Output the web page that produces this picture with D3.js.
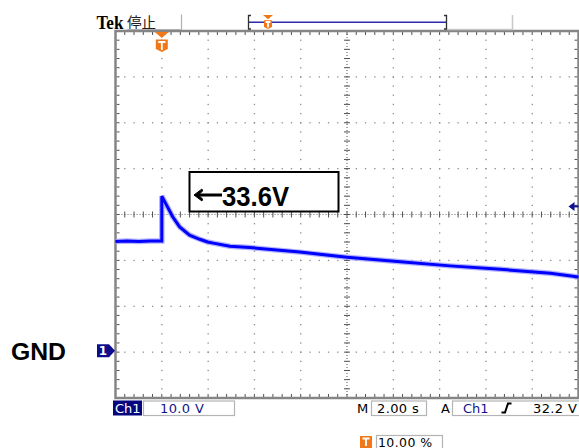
<!DOCTYPE html>
<html>
<head>
<meta charset="utf-8">
<script src="https://cdn.jsdelivr.net/npm/d3@7"></script>
<style>
  body { margin: 0; background: #ffffff; }
  svg { display: block; }
  .stat { font-family: "DejaVu Sans", sans-serif; font-size: 13px; }
</style>
</head>
<body>
<svg id="scope" width="579" height="448"></svg>
<script>
// Ch1 trace (time in s, trigger at 0; volts relative to GND)
const traceTime = [-2, -1.5, -1, -0.5, 0, 0, 0.47, 0.77, 1.2, 1.64, 1.98, 2.28, 2.94, 3.8, 5.96, 8.0, 10.3, 12.46, 14.62, 16.79, 18];
const traceVolt = [24.1, 24.2, 24.1, 24.2, 24.2, 34.0, 29.5, 27.3, 25.5, 24.6, 24.0, 23.7, 23.1, 22.8, 21.8, 20.7, 19.7, 18.8, 18.05, 17.2, 16.4];

// Screen settings / readouts
const timeDomain = [-2, 18];      // 2.00 s/div, trigger at 10 %
const voltDomain = [-10, 70];     // 10.0 V/div, GND at -3 div
const trigLevel = 32.2;
const peakLabel = '33.6V';
const chLabel = 'Ch1';
const voltsDiv = '10.0 V';
const timeDiv = '2.00 s';
const trigSrc = 'Ch1';
const trigLevelLabel = '32.2 V';
const trigPos = '10.00 %';

(function() {
    'use strict';

    const svg = d3.select('#scope');
    const x = d3.scaleLinear().domain(timeDomain).range([115.5, 578.5]);
    const y = d3.scaleLinear().domain(voltDomain).range([398, 31]);

    const xDivs = d3.range(timeDomain[0], timeDomain[1] + 0.001, 2);
    const yDivs = d3.range(voltDomain[0], voltDomain[1] + 0.001, 10);
    const xCenter = 8, yCenter = 30;

    const grid = svg.append('g');

    // dotted graticule: dot every 1/5 division
    const xMinor = d3.range(timeDomain[0], timeDomain[1] + 0.001, 0.4);
    const yMinor = d3.range(voltDomain[0], voltDomain[1] + 0.001, 2);
    xDivs.slice(1, -1).forEach(t => {
        if (t === xCenter) return;
        yMinor.forEach(v => {
            grid.append('rect')
                .attr('x', x(t) - 0.6).attr('y', y(v) - 0.6)
                .attr('width', 1.3).attr('height', 1.3)
                .attr('fill', '#8c8c8c');
        });
    });
    yDivs.slice(1, -1).forEach(v => {
        if (v === yCenter) return;
        xMinor.forEach(t => {
            grid.append('rect')
                .attr('x', x(t) - 0.6).attr('y', y(v) - 0.6)
                .attr('width', 1.3).attr('height', 1.3)
                .attr('fill', '#8c8c8c');
        });
    });

    // center axes with fine dots and ticks
    grid.append('line')
        .attr('x1', x(timeDomain[0])).attr('x2', x(timeDomain[1]))
        .attr('y1', y(yCenter)).attr('y2', y(yCenter))
        .attr('stroke', '#707070').attr('stroke-width', 1.2)
        .attr('stroke-dasharray', '1,2');
    grid.append('line')
        .attr('x1', x(xCenter)).attr('x2', x(xCenter))
        .attr('y1', y(voltDomain[0])).attr('y2', y(voltDomain[1]))
        .attr('stroke', '#707070').attr('stroke-width', 1.2)
        .attr('stroke-dasharray', '1,2');
    xMinor.forEach(t => {
        grid.append('line')
            .attr('x1', x(t)).attr('x2', x(t))
            .attr('y1', y(yCenter) - 3).attr('y2', y(yCenter) + 3)
            .attr('stroke', '#505050').attr('stroke-width', 1);
        // ticks along top and bottom border
        grid.append('line')
            .attr('x1', x(t)).attr('x2', x(t))
            .attr('y1', y(voltDomain[1]) + 1).attr('y2', y(voltDomain[1]) + 4)
            .attr('stroke', '#505050').attr('stroke-width', 1);
        grid.append('line')
            .attr('x1', x(t)).attr('x2', x(t))
            .attr('y1', y(voltDomain[0]) - 4).attr('y2', y(voltDomain[0]) - 1)
            .attr('stroke', '#505050').attr('stroke-width', 1);
    });
    yMinor.forEach(v => {
        grid.append('line')
            .attr('x1', x(xCenter) - 3).attr('x2', x(xCenter) + 3)
            .attr('y1', y(v)).attr('y2', y(v))
            .attr('stroke', '#505050').attr('stroke-width', 1);
        grid.append('line')
            .attr('x1', x(timeDomain[0]) + 1).attr('x2', x(timeDomain[0]) + 4)
            .attr('y1', y(v)).attr('y2', y(v))
            .attr('stroke', '#505050').attr('stroke-width', 1);
        grid.append('line')
            .attr('x1', x(timeDomain[1]) - 4).attr('x2', x(timeDomain[1]) - 1)
            .attr('y1', y(v)).attr('y2', y(v))
            .attr('stroke', '#505050').attr('stroke-width', 1);
    });

    // border
    grid.append('rect')
        .attr('x', x(timeDomain[0])).attr('y', y(voltDomain[1]))
        .attr('width', x(timeDomain[1]) - x(timeDomain[0]))
        .attr('height', y(voltDomain[0]) - y(voltDomain[1]))
        .attr('fill', 'none').attr('stroke', '#858585').attr('stroke-width', 2.5);

    // trace: noisy band, then core line
    const line = d3.line().x((d, i) => x(traceTime[i])).y(d => y(d));
    svg.append('path').datum(traceVolt)
        .attr('d', line).attr('fill', 'none')
        .attr('stroke', '#a0a0ff').attr('stroke-width', 5.5).attr('opacity', 0.8);
    svg.append('path').datum(traceVolt)
        .attr('d', line).attr('fill', 'none')
        .attr('stroke', '#0000ff').attr('stroke-width', 3);

    // trigger-level arrow (right edge)
    const ty = y(trigLevel) + 2;
    const tx = x(timeDomain[1]);
    svg.append('path')
        .attr('d', `M${tx - 10},${ty} L${tx - 4},${ty - 4.5} L${tx - 4},${ty + 4.5} Z`)
        .attr('fill', '#101090');
    svg.append('line')
        .attr('x1', tx - 5).attr('x2', tx).attr('y1', ty).attr('y2', ty)
        .attr('stroke', '#101090').attr('stroke-width', 2);

    // trigger position marker (top of grid)
    function triggerIcon(g, cx, top, w, h) {
        g.append('path')
            .attr('d', `M${cx - w / 2 - 1},${top} L${cx + w / 2 + 1},${top} L${cx},${top + h * 0.3} Z`)
            .attr('fill', '#f07818');
        g.append('path')
            .attr('d', `M${cx - w / 2},${top + h * 0.38} L${cx + w / 2},${top + h * 0.38} L${cx + w / 2},${top + h * 0.85} L${cx},${top + h} L${cx - w / 2},${top + h * 0.85} Z`)
            .attr('fill', '#f07818');
        g.append('path')
            .attr('d', `M${cx - w * 0.3},${top + h * 0.5} L${cx + w * 0.3},${top + h * 0.5} M${cx},${top + h * 0.5} L${cx},${top + h * 0.9}`)
            .attr('stroke', '#ffffff').attr('stroke-width', 1.8);
    }
    triggerIcon(svg.append('g'), x(0), 32, 12, 20);

    // GND / channel marker
    const gy = y(0) - 1.5;
    svg.append('path')
        .attr('d', `M97,${gy - 6.5} L109,${gy - 6.5} L115,${gy} L109,${gy + 6.5} L97,${gy + 6.5} Z`)
        .attr('fill', '#0c0c8c');
    svg.append('text')
        .attr('x', 103).attr('y', gy + 4.5)
        .attr('text-anchor', 'middle')
        .attr('font-family', 'DejaVu Sans, sans-serif').attr('font-weight', 'bold')
        .attr('font-size', '12px').attr('fill', '#ffffff')
        .text('1');

    svg.append('text')
        .attr('x', 11).attr('y', 359.5)
        .attr('font-family', 'Liberation Sans, Arial, sans-serif')
        .attr('font-weight', 'bold').attr('font-size', '24px')
        .attr('textLength', 55).attr('lengthAdjust', 'spacingAndGlyphs')
        .attr('fill', '#000000')
        .text('GND');

    // peak annotation box with long left arrow
    svg.append('rect')
        .attr('x', 189.5).attr('y', 172).attr('width', 149).attr('height', 39.5)
        .attr('fill', '#ffffff').attr('stroke', '#000000').attr('stroke-width', 2);
    svg.append('path')
        .attr('d', 'M197,195 L222,195')
        .attr('stroke', '#000').attr('stroke-width', 3);
    svg.append('path')
        .attr('d', 'M194,195 L202,189 L202.5,191 L198.5,195 L202.5,199 L202,201 Z')
        .attr('fill', '#000').attr('stroke', '#000').attr('stroke-width', 1);
    svg.append('text')
        .attr('x', 222).attr('y', 205.5)
        .attr('font-family', 'Liberation Sans, Arial, sans-serif')
        .attr('font-weight', 'bold').attr('font-size', '28px')
        .attr('textLength', 67).attr('lengthAdjust', 'spacingAndGlyphs')
        .attr('fill', '#000000')
        .text(peakLabel);

    // header: Tek 停止 and record bar
    svg.append('text')
        .attr('x', 96.5).attr('y', 28.5)
        .attr('font-family', 'Liberation Serif, serif')
        .attr('font-weight', 'bold').attr('font-size', '19px')
        .attr('textLength', 27).attr('lengthAdjust', 'spacingAndGlyphs')
        .text('Tek');
    svg.append('text')
        .attr('x', 127).attr('y', 28)
        .attr('font-family', 'Noto Sans CJK JP, sans-serif')
        .attr('font-size', '14.5px').attr('fill', '#202020')
        .text('停止');
    svg.append('path')
        .attr('d', 'M127,29.5 L182,29.5 M181.5,14.5 L181.5,30')
        .attr('stroke', '#b0b0b0').attr('stroke-width', 1.2).attr('fill', 'none');
    svg.append('path')
        .attr('d', 'M447,29.5 L513,29.5 M512.5,15 L512.5,30')
        .attr('stroke', '#c8c8c8').attr('stroke-width', 1.5).attr('fill', 'none');
    svg.append('line')
        .attr('x1', 249).attr('x2', 446).attr('y1', 22.3).attr('y2', 22.3)
        .attr('stroke', '#2a2ab0').attr('stroke-width', 1.4);
    svg.append('path')
        .attr('d', 'M251,15.5 L248.5,15.5 L248.5,29 L251,29 M444,15.5 L446.5,15.5 L446.5,29 L444,29')
        .attr('stroke', '#303030').attr('stroke-width', 1.3).attr('fill', 'none');
    triggerIcon(svg.append('g'), 268, 15, 8, 14);

    // status bar
    const status = svg.append('g').attr('class', 'stat');
    status.append('rect')
        .attr('x', 113).attr('y', 400.5).attr('width', 29).attr('height', 15)
        .attr('fill', '#06067e');
    status.append('text')
        .attr('x', 115).attr('y', 413).attr('fill', '#ffffff')
        .text(chLabel);
    [[143, 91], [371, 55], [452, 130]].forEach(([bx, bw]) => {
        status.append('rect')
            .attr('x', bx + 0.5).attr('y', 401).attr('width', bw).attr('height', 14.5)
            .attr('fill', 'none').attr('stroke', '#b4b4b4').attr('stroke-width', 1.2);
    });
    status.append('text').attr('x', 160).attr('y', 413).attr('fill', '#14148c')
        .attr('letter-spacing', '0.4px').text(voltsDiv);
    status.append('text').attr('x', 357).attr('y', 413).attr('fill', '#000').text('M');
    status.append('text').attr('x', 377).attr('y', 413).attr('fill', '#000')
        .attr('letter-spacing', '0.4px').text(timeDiv);
    status.append('text').attr('x', 441).attr('y', 413).attr('fill', '#000').text('A');
    status.append('text').attr('x', 463).attr('y', 413).attr('fill', '#14148c').text(trigSrc);
    status.append('path')
        .attr('d', 'M501.5,412.5 L505,412.5 L508,403.5 L511.5,403.5')
        .attr('stroke', '#000').attr('stroke-width', 2).attr('fill', 'none');
    status.append('text').attr('x', 533).attr('y', 413).attr('fill', '#000')
        .attr('letter-spacing', '0.4px').text(trigLevelLabel);

    // trigger position readout
    const tp = svg.append('g');
    tp.append('rect').attr('x', 360).attr('y', 436).attr('width', 12).attr('height', 12)
        .attr('fill', '#f07818');
    tp.append('path').attr('d', 'M362.5,438.5 L369.5,438.5 M366,438.5 L366,446')
        .attr('stroke', '#fff').attr('stroke-width', 1.8);
    tp.append('rect').attr('x', 376.5).attr('y', 435.5).attr('width', 66).attr('height', 14)
        .attr('fill', 'none').attr('stroke', '#b4b4b4').attr('stroke-width', 1.2);
    tp.append('text').attr('x', 378).attr('y', 446.5)
        .attr('font-family', 'DejaVu Sans, sans-serif').attr('font-size', '12.5px')
        .attr('letter-spacing', '0.4px').attr('fill', '#000').text(trigPos);
})();
</script>
</body>
</html>
